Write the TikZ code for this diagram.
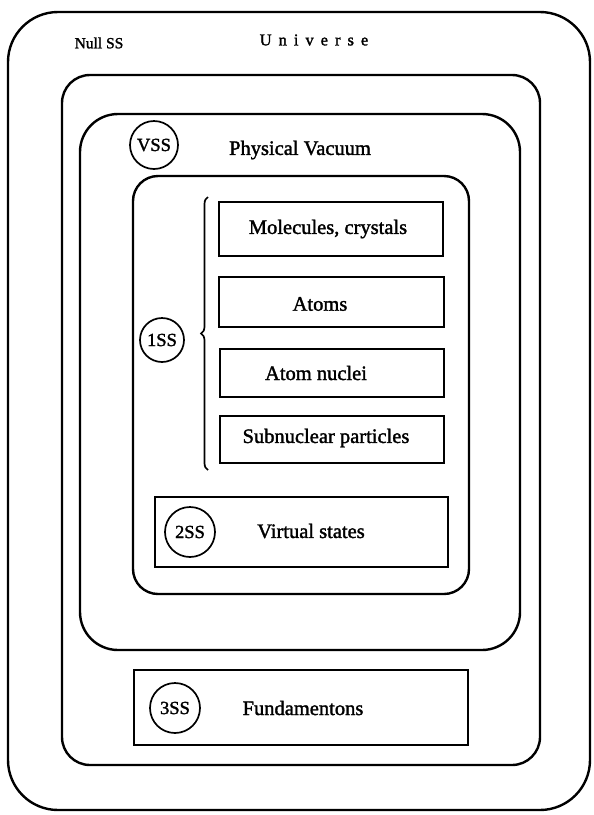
\documentclass[tikz,border=0pt]{standalone}
\usepackage{fontspec}
\setmainfont{Liberation Serif}[FakeBold=1.6]
\usetikzlibrary{decorations.pathreplacing}
\tikzset{
  roundbox/.style={draw, line width=2.4pt, rounded corners=#1, inner sep=0pt, outer sep=0pt},
  plainbox/.style={draw, line width=2.4pt, inner sep=0pt, outer sep=0pt},
  lbl/.style={inner sep=0pt, font=\fontsize{20.5}{24}\selectfont},
  ssring/.style={draw, circle, line width=1.7pt, minimum size=#1, inner sep=0pt, font=\fontsize{18.5}{20}\selectfont},
}
\begin{document}
\begin{tikzpicture}[x=1pt,y=-1pt]
\useasboundingbox (0,0) rectangle (594,815);
% nested frames
\node[roundbox=50pt, minimum width=582pt, minimum height=798pt] (universe) at (299,411) {};
\node[roundbox=28pt, minimum width=478pt, minimum height=690pt] (nullframe) at (301,420) {};
\node[roundbox=38pt, minimum width=440pt, minimum height=536pt] (vacuum) at (300,382) {};
\node[roundbox=25pt, minimum width=336pt, minimum height=418pt] (firstframe) at (301,385) {};
% inner boxes
\node[plainbox, minimum width=224pt, minimum height=54pt] (molbox) at (331,229) {};
\node[plainbox, minimum width=225pt, minimum height=50pt] (atombox) at (331.5,302) {};
\node[plainbox, minimum width=224pt, minimum height=48pt] (nucbox) at (332,373) {};
\node[plainbox, minimum width=224pt, minimum height=47pt] (subbox) at (332,439.5) {};
\node[plainbox, minimum width=293pt, minimum height=70pt] (virtbox) at (301.5,532) {};
\node[plainbox, minimum width=334pt, minimum height=75pt] (fundbox) at (301,707.5) {};
% labels
\node[inner sep=0pt, font=\fontsize{15.5}{18}\selectfont] (nullss) at (99,43) {Null SS};
\node[inner sep=0pt, font=\fontsize{16.5}{18}\selectfont] (univ) at (314,40)
  {U\hspace{7pt}n\hspace{7pt}i\hspace{7pt}v\hspace{7pt}e\hspace{7pt}r\hspace{7pt}s\hspace{7pt}e};
\node[lbl] (physvac) at (300,150) {Physical Vacuum};
\node[lbl] (moltext) at (328,229) {Molecules, crystals};
\node[lbl] (atomtext) at (320,304) {Atoms};
\node[lbl] (nuctext) at (316,373) {Atom nuclei};
\node[lbl] (subtext) at (326,438) {Subnuclear particles};
\node[lbl] (virttext) at (311,531) {Virtual states};
\node[lbl] (fundtext) at (303,708) {Fundamentons};
% circles
\node[ssring=48pt] (vss) at (154,145) {VSS};
\node[ssring=44pt] (oness) at (162,340) {1SS};
\node[ssring=50pt] (twoss) at (190,532) {2SS};
\node[ssring=50pt] (threess) at (175,708) {3SS};
% brace
\coordinate (bracetop) at (208,197);
\coordinate (bracebot) at (208,470);
\draw[line width=1.7pt, decorate, decoration={brace, amplitude=7pt}] (bracebot) -- (bracetop);
\end{tikzpicture}
\end{document}
